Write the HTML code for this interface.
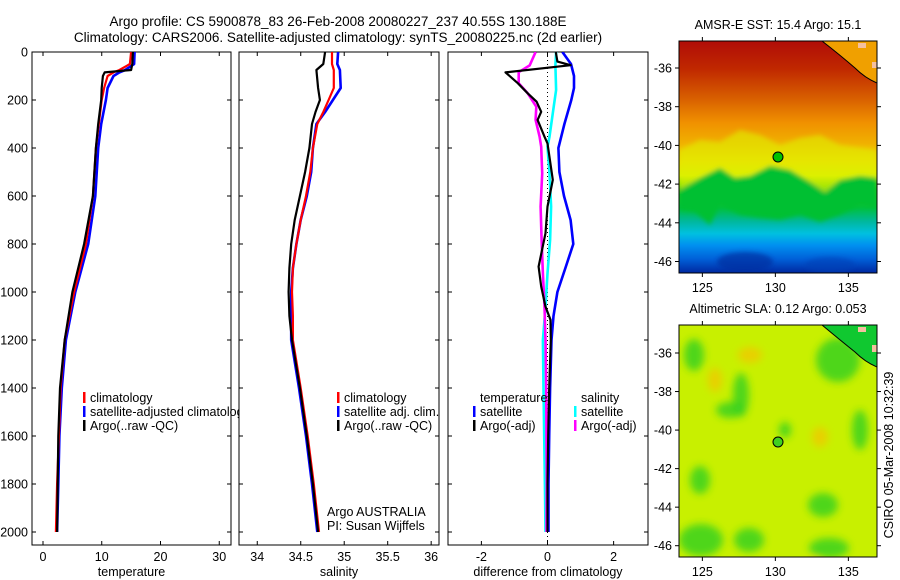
<!DOCTYPE html>
<html><head><meta charset="utf-8">
<style>
html,body{margin:0;padding:0;background:#fff;}
svg{display:block;font-family:"Liberation Sans",sans-serif;}
text{font-size:12.5px;fill:#000;}
</style></head>
<body>
<svg id="chart" width="900" height="580" viewBox="0 0 900 580">
<defs>
<clipPath id="cp1"><rect x="32" y="52" width="199" height="493"/></clipPath>
<clipPath id="cp2"><rect x="239" y="52" width="200" height="493"/></clipPath>
<clipPath id="cp3"><rect x="448" y="52" width="200" height="493"/></clipPath>
<clipPath id="cleg1"><rect x="0" y="380" width="239" height="60"/></clipPath>
<clipPath id="cm1"><rect x="679" y="41" width="198" height="232"/></clipPath>
<clipPath id="cm2"><rect x="679" y="325" width="198" height="232"/></clipPath>
<filter id="blur" x="-50%" y="-50%" width="200%" height="200%"><feGaussianBlur stdDeviation="4"/></filter>
<filter id="blur2" x="-20%" y="-20%" width="140%" height="140%"><feGaussianBlur stdDeviation="2.5"/></filter>
<linearGradient id="sstg" x1="0" y1="0" x2="0" y2="1">
<stop offset="0" stop-color="#b00c08"/><stop offset="0.12" stop-color="#c02800"/>
<stop offset="0.25" stop-color="#d86000"/><stop offset="0.35" stop-color="#f09000"/>
<stop offset="0.44" stop-color="#f0b000"/><stop offset="0.52" stop-color="#f0d800"/>
<stop offset="0.58" stop-color="#d8f000"/><stop offset="0.64" stop-color="#30d010"/>
<stop offset="0.72" stop-color="#00c040"/><stop offset="0.78" stop-color="#00b8a0"/>
<stop offset="0.83" stop-color="#00c0e0"/><stop offset="0.88" stop-color="#0090f0"/>
<stop offset="0.94" stop-color="#0060d8"/><stop offset="1" stop-color="#0028a0"/>
</linearGradient>
</defs>
<g id="titles">
<text x="338" y="26" text-anchor="middle" style="font-size:13.5px">Argo profile: CS 5900878_83 26-Feb-2008 20080227_237 40.55S 130.188E</text>
<text x="338" y="42" text-anchor="middle" style="font-size:13.5px">Climatology: CARS2006. Satellite-adjusted climatology: synTS_20080225.nc (2d earlier)</text>
</g>
<g id="plots"></g>
<g id="maps"></g>
<text transform="translate(893,455) rotate(-90)" text-anchor="middle">CSIRO 05-Mar-2008 10:32:39</text>
</svg>
<script>
// ---- data ----
const tempDepths=[0,50,75,85,100,150,200,300,400,600,800,1000,1200,1400,1600,1800,2000];
const tempArgo=[15.3,15.2,15.0,10.5,10.2,10.0,9.9,9.4,9.0,8.5,7.0,5.0,3.7,2.9,2.6,2.5,2.4];
const tempClim=[15.0,14.8,13,12,11,10.4,10.0,9.5,9.0,8.5,7.3,5.3,3.7,3.0,2.7,2.4,2.2];
const tempSat=[15.6,15.5,14,13,12,11,10.7,9.9,9.4,8.9,7.7,5.5,3.9,3.2,2.8,2.6,2.4];
const salDepths=[0,50,75,150,200,250,300,400,500,600,700,800,900,1000,1100,1200,1400,1600,1800,2000];
const salArgo=[34.78,34.76,34.68,34.70,34.72,34.67,34.63,34.60,34.55,34.49,34.43,34.39,34.37,34.36,34.37,34.40,34.49,34.57,34.64,34.70];
const salClim=[34.86,34.86,34.88,34.88,34.82,34.76,34.69,34.64,34.61,34.56,34.50,34.45,34.41,34.40,34.41,34.41,34.50,34.58,34.65,34.71];
const salSat=[34.93,34.92,34.95,34.96,34.87,34.78,34.68,34.64,34.62,34.57,34.50,34.45,34.41,34.39,34.39,34.39,34.48,34.56,34.63,34.69];
const dTSatDepths=[0,50,100,150,200,300,400,500,600,700,800,900,1000,1100,1200,1400,1600,1800,2000];
const dTSat=[0.45,0.71,0.8,0.8,0.72,0.51,0.33,0.36,0.5,0.7,0.78,0.54,0.3,0.18,0.12,0.08,0.05,0.03,0.03];
const dTArgoDepths=[0,40,55,85,130,172,207,249,283,353,381,533,644,755,894,977,1061,1116,1200,1400,1600,1800,2000];
const dTArgo=[0.25,0.3,0.7,-1.27,-0.9,-0.6,-0.33,-0.19,-0.3,-0.09,0,0.16,0,-0.06,-0.27,-0.19,-0.06,0.09,0.1,0.05,0.02,0,0];
const dSArgoDepths=[0,56,84,130,172,228,283,353,395,506,644,783,922,1061,1200,1400,1600,1800,2000];
const dSArgo=[-0.36,-0.54,-0.87,-0.87,-0.6,-0.34,-0.36,-0.24,-0.19,-0.16,-0.21,-0.18,-0.14,-0.09,-0.06,-0.04,-0.03,-0.02,-0.03];
const dSSatDepths=[0,56,158,255,353,395,506,644,783,922,1061,1200,1400,1600,1800,2000];
const dSSat=[0.26,0.24,0.26,0.16,0.06,0,0.06,0.11,0.08,0,-0.06,-0.14,-0.12,-0.1,-0.08,-0.06];
const depthTicks=[0,200,400,600,800,1000,1200,1400,1600,1800,2000];
const tempTicks=[0,10,20,30];
const salTicks=[34,34.5,35,35.5,36];
const salTickLabels=["34","34.5","35","35.5","36"];
const diffTicks=[-2,0,2];
const lonTicks=[125,130,135];
const latTicks=[-36,-38,-40,-42,-44,-46];

const NS="http://www.w3.org/2000/svg";
function mk(tag,attrs,parent){const e=document.createElementNS(NS,tag);for(const k in attrs)e.setAttribute(k,attrs[k]);parent.appendChild(e);return e;}
const plots=document.getElementById('plots');
const yD=d=>52+d*0.24;

function panel(id,x0,x1,xmin,xmax,ticks,tlabels,showY,xlabel,series){
  const g=mk('g',{},plots);
  
  
  const sx=v=>x0+(v-xmin)/(xmax-xmin)*(x1-x0);
  const fr=mk('rect',{x:x0,y:52,width:x1-x0,height:493,fill:'none',stroke:'#000','stroke-width':1},g);
  
  
  depthTicks.forEach(d=>{
    mk('line',{x1:x0,x2:x0+4,y1:yD(d),y2:yD(d),stroke:'#000'},g);
    mk('line',{x1:x1,x2:x1-4,y1:yD(d),y2:yD(d),stroke:'#000'},g);
    if(showY){const t=mk('text',{x:x0-4,y:yD(d)+4.5,'text-anchor':'end'},g);t.textContent=d;
      
      }
  });
  ticks.forEach((v,i)=>{
    mk('line',{x1:sx(v),x2:sx(v),y1:52,y2:56,stroke:'#000'},g);
    mk('line',{x1:sx(v),x2:sx(v),y1:545,y2:541,stroke:'#000'},g);
    const t=mk('text',{x:sx(v),y:561,'text-anchor':'middle'},g);t.textContent=tlabels[i];
    
    
  });
  const xl=mk('text',{x:(x0+x1)/2,y:576,'text-anchor':'middle'},g);xl.textContent=xlabel;
  
  
  const cg=mk('g',{'clip-path':'url(#cp'+id.slice(-1)+')'},g);
  series.forEach(s=>{
    if(s.dotted){mk('line',{x1:sx(0),x2:sx(0),y1:52,y2:545,stroke:'#000','stroke-dasharray':'1,3'},cg);return;}
    const pts=s.v.map((v,i)=>sx(v).toFixed(1)+','+yD(s.d[i]).toFixed(1)).join(' ');
    const p=mk('polyline',{points:pts,fill:'none',stroke:s.c,'stroke-width':s.w||2.2,'stroke-linejoin':'round'},cg);
    
    
  });
  return {g,sx};
}
panel('panel1',32,231,-1.87,32.0,tempTicks,tempTicks.map(String),true,'temperature',[
 {d:tempDepths,v:tempSat,c:'#0000ff',n:'temp-satellite-line',w:2.6},
 {d:tempDepths,v:tempClim,c:'#ff0000',n:'temp-climatology-line'},
 {d:tempDepths,v:tempArgo,c:'#000',n:'temp-argo-line'}]);
panel('panel2',239,439,33.79,36.09,salTicks,salTickLabels,false,'salinity',[
 {d:salDepths,v:salSat,c:'#0000ff',n:'sal-satellite-line',w:2.6},
 {d:salDepths,v:salClim,c:'#ff0000',n:'sal-climatology-line'},
 {d:salDepths,v:salArgo,c:'#000',n:'sal-argo-line'}]);
panel('panel3',448,648,-3.01,3.04,diffTicks,diffTicks.map(String),false,'difference from climatology',[
 {dotted:true},
 {d:dTSatDepths,v:dTSat,c:'#0000ff',n:'diff-temp-satellite-line',w:2.6},
 {d:dSSatDepths,v:dSSat,c:'#00ffff',n:'diff-sal-satellite-line',w:2.6},
 {d:dSArgoDepths,v:dSArgo,c:'#ff00ff',n:'diff-sal-argo-line',w:2.6},
 {d:dTArgoDepths,v:dTArgo,c:'#000',n:'diff-temp-argo-line'}]);

function legend(x,y,items,name,clip){
  const g=mk('g',clip?{'clip-path':clip}:{},plots);
  
  
  items.forEach((it,i)=>{
    if(it.c) mk('rect',{x:x,y:y+i*14-6,width:2.5,height:11,fill:it.c},g);
    const t=mk('text',{x:x+7,y:y+i*14+4},g);t.textContent=it.t;
  });
}
legend(83,398,[{c:'#f00',t:'climatology'},{c:'#00f',t:'satellite-adjusted climatology'},{c:'#000',t:'Argo(..raw -QC)'}],'temp-legend','url(#cleg1)');
legend(337,398,[{c:'#f00',t:'climatology'},{c:'#00f',t:'satellite adj. clim.'},{c:'#000',t:'Argo(..raw -QC)'}],'sal-legend');
legend(473,398,[{t:'temperature'},{c:'#00f',t:'satellite'},{c:'#000',t:'Argo(-adj)'}],'diff-temp-legend');
legend(574,398,[{t:'salinity'},{c:'#0ff',t:'satellite'},{c:'#f0f',t:'Argo(-adj)'}],'diff-sal-legend');
const ta=mk('text',{x:327,y:516},plots);ta.textContent='Argo AUSTRALIA';


const tp=mk('text',{x:327,y:530},plots);tp.textContent='PI: Susan Wijffels';



// ---- maps ----
const maps=document.getElementById('maps');
function mapFrame(y0,title,name,ticksY){
  const g=mk('g',{},maps);
  
  
  const sxm=lon=>679+(lon-123.4)*14.6;
  const t=mk('text',{x:778,y:y0-12,'text-anchor':'middle'},g);t.textContent=title;
  
  
  lonTicks.forEach(l=>{
    mk('line',{x1:sxm(l),x2:sxm(l),y1:y0,y2:y0-4,stroke:'#000'},g);
    mk('line',{x1:sxm(l),x2:sxm(l),y1:y0+232,y2:y0+236,stroke:'#000'},g);
    const tt=mk('text',{x:sxm(l),y:y0+251,'text-anchor':'middle'},g);tt.textContent=l;
  });
  latTicks.forEach(la=>{
    const yy=ticksY(la);
    mk('line',{x1:679,x2:675,y1:yy,y2:yy,stroke:'#000'},g);
    mk('line',{x1:877,x2:881,y1:yy,y2:yy,stroke:'#000'},g);
    const tt=mk('text',{x:672,y:yy+4.5,'text-anchor':'end'},g);tt.textContent=la;
  });
  return g;
}
// SST map
const g1=mapFrame(41,'AMSR-E SST: 15.4 Argo: 15.1','sst-map',la=>68+(-36-la)*19.35);
const c1=mk('g',{'clip-path':'url(#cm1)'},g1);
mk('rect',{x:679,y:41,width:198,height:232,fill:'url(#sstg)'},c1);
const sstBlobs=mk('g',{filter:'url(#blur2)'},c1);
mk('path',{d:'M679,190 L700,178 L720,168 L735,178 L750,176 L770,166 L790,170 L810,182 L825,192 L840,180 L860,176 L877,178 L877,208 L860,205 L840,215 L820,222 L800,215 L780,220 L760,218 L740,215 L720,205 L710,225 L695,212 L679,210 Z',fill:'#00c030'},sstBlobs);
mk('path',{d:'M679,150 L700,140 L720,142 L740,130 L760,135 L780,145 L800,138 L820,135 L840,145 L877,150 L877,178 L860,176 L840,180 L825,192 L810,182 L790,170 L770,166 L750,176 L735,178 L720,168 L700,178 L679,190 Z',fill:'#e0f000',opacity:0.6},sstBlobs);
mk('ellipse',{cx:745,cy:262,rx:28,ry:10,fill:'#0030a0',opacity:0.7},sstBlobs);
mk('ellipse',{cx:830,cy:265,rx:25,ry:8,fill:'#0040b8',opacity:0.6},sstBlobs);
mk('path',{d:'M822,41 Q840,55 855,68 Q865,78 877,83 L877,41 Z',fill:'#f0a000'},c1);
mk('path',{d:'M822,41 Q840,55 855,68 Q865,78 877,83',fill:'none',stroke:'#000','stroke-width':1},c1);
mk('rect',{x:858,y:43,width:8,height:5,fill:'#f4c0a0'},c1);
mk('rect',{x:872,y:62,width:5,height:6,fill:'#f4c0a0'},c1);
mk('rect',{x:679,y:41,width:198,height:232,fill:'none',stroke:'#000'},g1);
mk('circle',{cx:778,cy:157,r:5,fill:'#00c000',stroke:'#000'},g1);
// SLA map
const g2=mapFrame(325,'Altimetric SLA: 0.12 Argo: 0.053','sla-map',la=>353+(-36-la)*19.27);
const c2=mk('g',{'clip-path':'url(#cm2)'},g2);
mk('rect',{x:679,y:325,width:198,height:232,fill:'#c8f000'},c2);
const slaBlobs=mk('g',{filter:'url(#blur)'},c2);
const greens=[[694,355,10,16],[741,395,8,22],[730,410,14,8],[700,480,10,14],[701,540,22,16],[749,540,15,12],[838,360,22,22],[829,548,20,10],[823,505,15,12],[860,430,8,20],[785,430,6,8]];
greens.forEach(b=>mk('ellipse',{cx:b[0],cy:b[1],rx:b[2],ry:b[3],fill:'#30d020',opacity:0.8},slaBlobs));
const oranges=[[715,380,7,12],[750,355,12,8],[820,437,8,10],[815,570,8,12]];
oranges.forEach(b=>mk('ellipse',{cx:b[0],cy:b[1],rx:b[2],ry:b[3],fill:'#f0c800',opacity:0.8},slaBlobs));
mk('path',{d:'M822,325 Q840,340 855,352 Q865,362 877,367 L877,325 Z',fill:'#10c830'},c2);
mk('path',{d:'M822,325 Q840,340 855,352 Q865,362 877,367',fill:'none',stroke:'#000','stroke-width':1},c2);
mk('rect',{x:858,y:327,width:8,height:5,fill:'#f4c0a0'},c2);
mk('rect',{x:872,y:345,width:5,height:7,fill:'#f4c0a0'},c2);
mk('rect',{x:679,y:325,width:198,height:232,fill:'none',stroke:'#000'},g2);
mk('circle',{cx:778,cy:442,r:5,fill:'#40d020',stroke:'#000'},g2);
</script>
</body></html>
